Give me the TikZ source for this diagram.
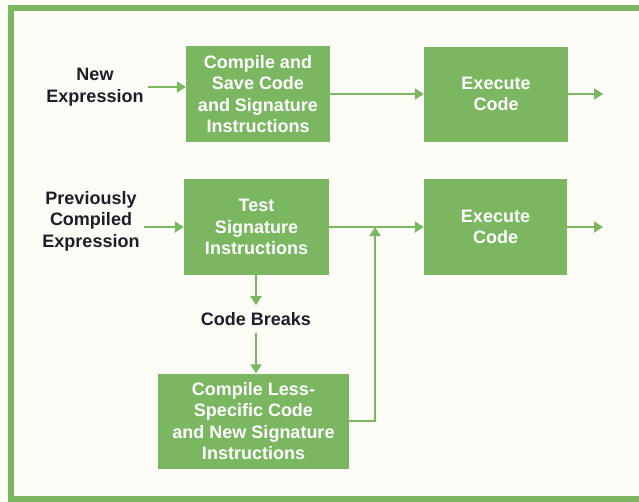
\documentclass[tikz,border=0pt]{standalone}
\usepackage{fontspec}
\setmainfont{Liberation Sans}
\usepackage{xcolor}
\usepackage{tikz}
\usetikzlibrary{arrows.meta, positioning, calc}
\definecolor{hpgreen}{HTML}{7BB661}
\definecolor{paper}{HTML}{FCFBF6}
\definecolor{ink}{HTML}{1E1E28}
\tikzset{every picture/.style={font issue=\bfseries\fontsize{18}{21.5}},
         font issue/.style={execute at begin picture={#1\selectfont}},
         block/.style={fill=hpgreen, text=white, align=center, inner sep=0pt},
         lbl/.style={text=ink, align=center, inner sep=4pt},
         flow/.style={draw=hpgreen, line width=2pt, -{Triangle[length=9pt,width=11pt]}}
        }

\begin{document}
\begin{tikzpicture}[x=1pt, y=-1pt]
\useasboundingbox (0,0) rectangle (639,501);
\fill[paper] (0,0) rectangle (639,501);
\draw[hpgreen, line width=6pt] (680,8) -- (11,8) -- (11,499) -- (680,499);

%Upper path
\node[lbl] (new) at (95,87) {New\\Expression};
\node[block, minimum width=144pt, minimum height=96pt] (compile) at (258,94)
  {Compile and\\Save Code\\and Signature\\Instructions};
\node[block, minimum width=144pt, minimum height=95pt] (exec1) at (496,94) {Execute\\Code};
\coordinate (out1) at (603,94);

\draw[flow] (new.east) -- (new.east -| compile.west);
\draw[flow] (compile.east) -- (exec1.west);
\draw[flow] (exec1.east) -- (out1);

%Lower path
\node[lbl] (prev) at (91,221) {Previously\\Compiled\\Expression};
\node[block, minimum width=145pt, minimum height=96pt] (test) at (256.5,227)
  {Test\\Signature\\Instructions};
\node[block, minimum width=143pt, minimum height=96pt] (exec2) at (495.5,227) {Execute\\Code};
\coordinate (out2) at (603,227);

\node[lbl, inner sep=7pt] (breaks) at (256,319) {Code Breaks};
\node[block, minimum width=191pt, minimum height=95pt] (less) at (253.5,421)
  {Compile Less-\\Specific Code\\and New Signature\\Instructions};
\coordinate (join) at (375,227);

\draw[flow] (prev.east |- test.west) -- (test.west);
\draw[flow] (test.east) -- (exec2.west);
\draw[flow] (exec2.east) -- (out2);
\draw[flow] (breaks.north |- test.south) -- (breaks.north);
\draw[flow] (breaks.south) -- (breaks.south |- less.north);
\draw[flow] (less.east) -| (join);
\end{tikzpicture}
\end{document}
